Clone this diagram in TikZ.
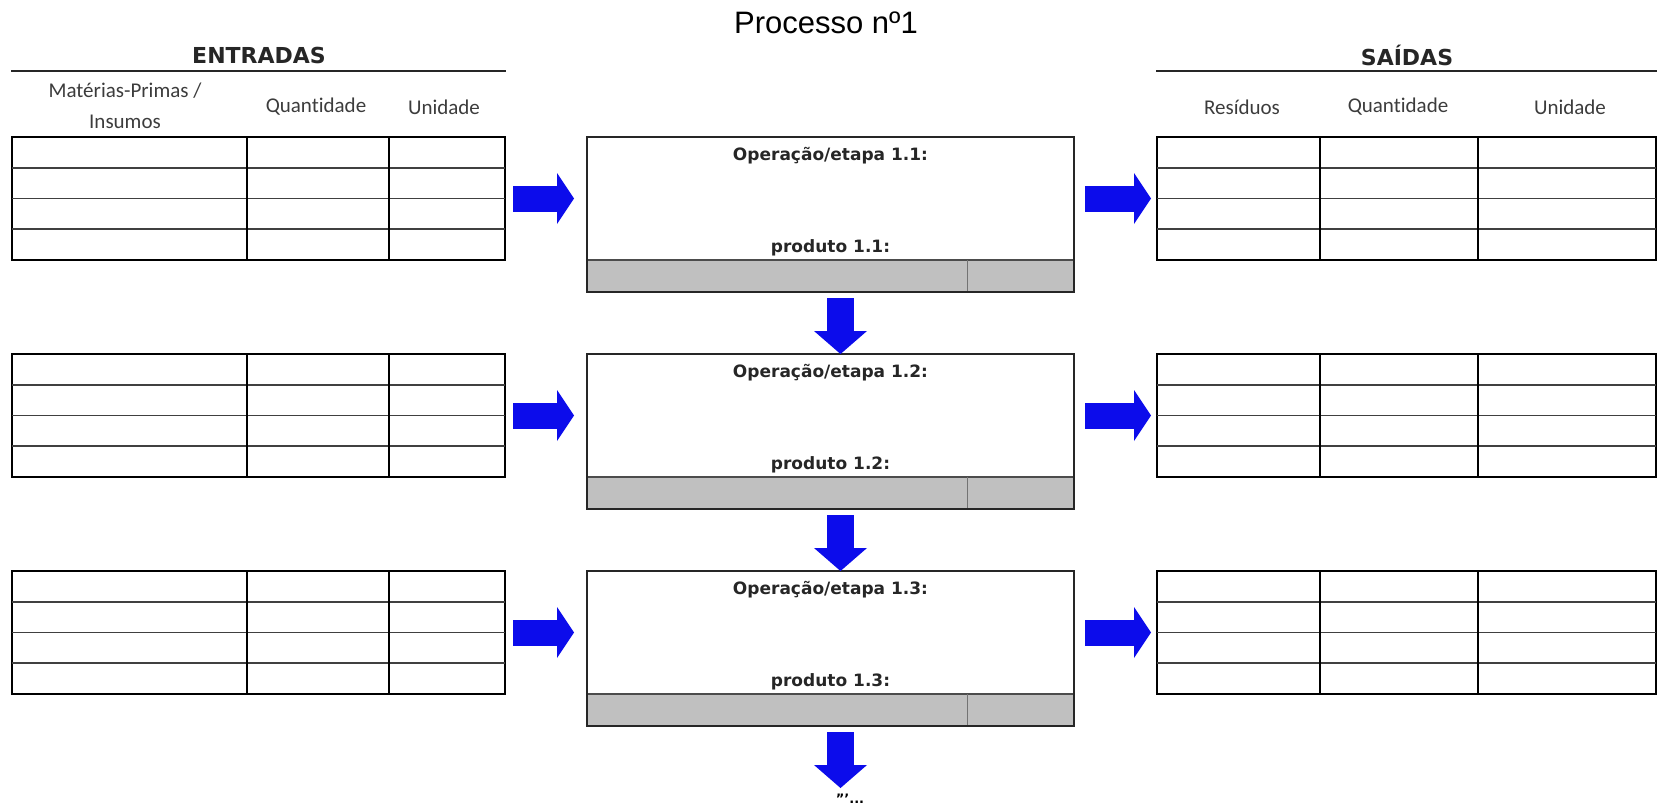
\documentclass[tikz,border=0pt]{standalone}
\usepackage{fontspec}
\usepackage{tikz}
\usetikzlibrary{arrows.meta}
\setmainfont{DejaVu Sans}
\newfontfamily\headfont[Ligatures=NoCommon]{Carlito}
\newfontfamily\titlefont{Liberation Sans}
\definecolor{arrowBlue}{RGB}{12,12,235}
\definecolor{bandGray}{RGB}{192,192,192}
\definecolor{headGray}{RGB}{60,60,60}

\tikzset{
  inTable/.style={draw=black, line width=2.5pt, anchor=north west, inner sep=0pt, outer sep=0pt, minimum width=493pt, minimum height=123pt},
  outTable/.style={inTable, minimum width=499pt},
  rowLine/.style={draw=black!75, line width=1.6pt},
  colLine/.style={draw=black, line width=2pt},
  opBox/.style={draw=black!85, line width=2.5pt, anchor=north west, inner sep=0pt, outer sep=0pt, minimum width=487pt, minimum height=155pt},
  opFrame/.style={draw=black!85, line width=2.5pt},
  opText/.style={font=\bfseries\fontsize{17}{20}\selectfont, text=black!85},
  colHead/.style={font=\headfont\fontsize{21}{31}\selectfont, text=headGray, align=center},
  sideHead/.style={font=\bfseries\fontsize{22}{26}\selectfont, text=black!85},
  sideRule/.style={draw=black!85, line width=2.5pt},
  flowRight/.style={draw=arrowBlue, line width=26pt, -{Triangle[width=51pt,length=17pt,line width=0pt]}},
  flowDown/.style={draw=arrowBlue, line width=27pt, -{Triangle[width=53pt,length=23pt,line width=0pt]}}
}

\begin{document}
\begin{tikzpicture}[x=1pt, y=-1pt]
    \useasboundingbox (0,0) rectangle (1657,803);

    % Title and headers
    \node[font=\titlefont\fontsize{31}{36}\selectfont] (title) at (826,23) {Processo nº1};
    \node[sideHead] (entradas) at (259,55) {ENTRADAS};
    \node[sideHead] (saidas) at (1407,55) {SAÍDAS};
    \draw[sideRule] (11,71) -- (506,71);
    \draw[sideRule] (1156,71) -- (1657,71);
    \node[colHead] (hdMat) at (125,106) {Matérias-Primas /\\Insumos};
    \node[colHead] (hdQtdIn) at (316,107) {Quantidade};
    \node[colHead] (hdUniIn) at (444,107) {Unidade};
    \node[colHead] (hdRes) at (1242,107) {Resíduos};
    \node[colHead] (hdQtdOut) at (1398,107) {Quantidade};
    \node[colHead] (hdUniOut) at (1570,107) {Unidade};

    % Input tables
    \node[inTable] (in1) at (12,137) {};
    \node[inTable] (in2) at (12,354) {};
    \node[inTable] (in3) at (12,571) {};

    % Output tables
    \node[outTable] (out1) at (1157,137) {};
    \node[outTable] (out2) at (1157,354) {};
    \node[outTable] (out3) at (1157,571) {};

    % Table grid lines
    \foreach \t in {in1,in2,in3,out1,out2,out3} {
        \foreach \r in {30.75,61.5,92.25}
            \draw[rowLine] ([yshift=-\r pt]\t.north west) -- ([yshift=-\r pt]\t.north east);
    }
    \foreach \t in {in1,in2,in3} {
        \foreach \c in {235,377}
            \draw[colLine] ([xshift=\c pt]\t.north west) -- ([xshift=\c pt]\t.south west);
    }
    \foreach \t in {out1,out2,out3} {
        \foreach \c in {163,321}
            \draw[colLine] ([xshift=\c pt]\t.north west) -- ([xshift=\c pt]\t.south west);
    }

    % Operation boxes
    \node[opBox] (op1) at (587,137) {};
    \node[opBox] (op2) at (587,354) {};
    \node[opBox] (op3) at (587,571) {};
    \foreach \b in {op1,op2,op3} {
        \fill[bandGray] ([yshift=32pt]\b.south west) rectangle (\b.south east);
        \draw[black!70, line width=1.5pt] ([yshift=32pt]\b.south west) -- ([yshift=32pt]\b.south east);
        \draw[black!55, line width=1pt] ([xshift=380pt,yshift=32pt]\b.south west) -- ([xshift=380pt]\b.south west);
        \draw[opFrame] (\b.south west) rectangle (\b.north east);
    }
    \node[opText] (op1name) at ([yshift=-19pt]op1.north) {Operação/etapa 1.1:};
    \node[opText] (op1prod) at ([yshift=44pt]op1.south) {produto 1.1:};
    \node[opText] (op2name) at ([yshift=-19pt]op2.north) {Operação/etapa 1.2:};
    \node[opText] (op2prod) at ([yshift=44pt]op2.south) {produto 1.2:};
    \node[opText] (op3name) at ([yshift=-19pt]op3.north) {Operação/etapa 1.3:};
    \node[opText] (op3prod) at ([yshift=44pt]op3.south) {produto 1.3:};

    % Flow arrows
    \draw[flowRight] ([xshift=8pt]in1.east) -- ([xshift=-13pt]in1.east -| op1.west);
    \draw[flowRight] ([xshift=8pt]in2.east) -- ([xshift=-13pt]in2.east -| op2.west);
    \draw[flowRight] ([xshift=8pt]in3.east) -- ([xshift=-13pt]in3.east -| op3.west);
    \draw[flowRight] ([xshift=11pt]out1.west -| op1.east) -- ([xshift=-6pt]out1.west);
    \draw[flowRight] ([xshift=11pt]out2.west -| op2.east) -- ([xshift=-6pt]out2.west);
    \draw[flowRight] ([xshift=11pt]out3.west -| op3.east) -- ([xshift=-6pt]out3.west);
    \draw[flowDown] ([xshift=10pt,yshift=-6pt]op1.south) -- ([xshift=10pt]op2.north);
    \draw[flowDown] ([xshift=10pt,yshift=-6pt]op2.south) -- ([xshift=10pt]op3.north);
    \coordinate (more) at ([xshift=10pt,yshift=-62pt]op3.south);
    \draw[flowDown] ([xshift=10pt,yshift=-6pt]op3.south) -- (more);
    \node[font=\bfseries\fontsize{13}{14}\selectfont, anchor=base] (etc) at (850,803) {'''...};
\end{tikzpicture}
\end{document}
